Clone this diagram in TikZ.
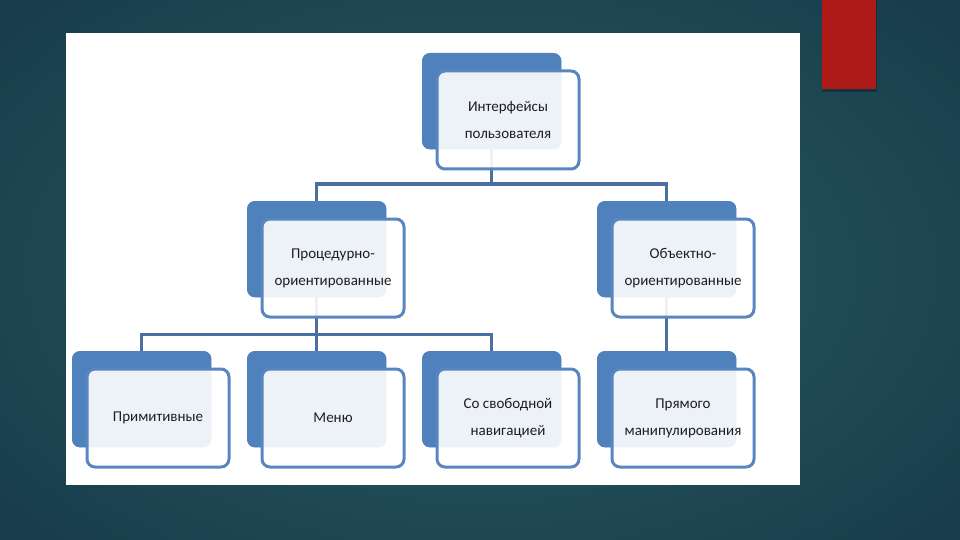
\documentclass[tikz,border=0pt]{standalone}
\usepackage{fontspec}
\newfontfamily\boxfont{Carlito}
\usetikzlibrary{calc,positioning}
\definecolor{bgdark}{HTML}{163A4A}
\definecolor{bglight}{HTML}{2B5D61}
\definecolor{accent}{HTML}{4F81BD}
\definecolor{frontline}{HTML}{5A86BF}
\definecolor{connc}{HTML}{4A70A2}
\definecolor{redbar}{HTML}{AE1A17}
\definecolor{txt}{HTML}{1E1E1E}
\tikzset{
  backbox/.style={draw=none, fill=accent, rounded corners=8pt, anchor=north west,
    minimum width=139pt, minimum height=96pt, inner sep=0pt},
  frontbox/.style={draw=frontline, line width=3pt, fill=white, fill opacity=0.9, text opacity=1,
    rounded corners=8pt, anchor=north west, minimum width=142pt, minimum height=98pt,
    inner sep=0pt, align=center, text=txt, font=\boxfont\fontsize{15}{27}\selectfont},
  conn/.style={draw=connc, line width=3pt, line join=miter},
}
\begin{document}
\begin{tikzpicture}[x=1pt,y=-1pt]
\useasboundingbox (0,0) rectangle (960,540);
% background
\shade[inner color=bglight, outer color=bgdark] (-200,-150) rectangle (1160,690);
\fill[black, opacity=0.25] (822,0) rectangle (877,92);
\fill[redbar] (822,0) rectangle (876,89);
% white panel
\fill[white] (66,33) rectangle (800,485);
% bus coordinates
\coordinate (bus1) at (0,184);
\coordinate (bus2) at (0,334);
% back boxes (placed first to give names for connectors)
\node[backbox] (top-b) at (422,53) {};
\node[backbox] (pro-b) at (247,201) {};
\node[backbox] (obj-b) at (597,201) {};
\node[backbox] (b1-b) at (72,351) {};
\node[backbox] (b2-b) at (247,351) {};
\node[backbox] (b3-b) at (422,351) {};
\node[backbox] (b4-b) at (597,351) {};
% connectors (drawn on background of boxes via redraw order)
\begin{scope}
\draw[conn] (top-b.center) -- (top-b.center |- bus1);
\draw[conn] (pro-b.north) -- (pro-b.north |- bus1) -- (obj-b.north |- bus1) -- (obj-b.north);
\draw[conn] (pro-b.center) -- (pro-b.center |- bus2);
\draw[conn] (b1-b.north) -- (b1-b.north |- bus2) -- (b3-b.north |- bus2) -- (b3-b.north);
\draw[conn] (b2-b.north) -- (pro-b.center |- bus2);
\draw[conn] (obj-b.center) -- (b4-b.north);
\end{scope}
% redraw back boxes over the connectors
\foreach \n in {top-b,pro-b,obj-b,b1-b,b2-b,b3-b,b4-b}{
  \fill[accent, rounded corners=8pt] (\n.north west) rectangle (\n.south east);
}
% front boxes
\node[frontbox] (top) at ($(top-b.north west)+(13.5,16.5)$) {Интерфейсы\\пользователя};
\node[frontbox] (pro) at ($(pro-b.north west)+(13.5,16.5)$) {Процедурно-\\ориентированные};
\node[frontbox] (obj) at ($(obj-b.north west)+(13.5,16.5)$) {Объектно-\\ориентированные};
\node[frontbox] (b1) at ($(b1-b.north west)+(13.5,16.5)$) {Примитивные};
\node[frontbox] (b2) at ($(b2-b.north west)+(13.5,16.5)$) {Меню};
\node[frontbox] (b3) at ($(b3-b.north west)+(13.5,16.5)$) {Со свободной\\навигацией};
\node[frontbox] (b4) at ($(b4-b.north west)+(13.5,16.5)$) {Прямого\\манипулирования};
\end{tikzpicture}
\end{document}
